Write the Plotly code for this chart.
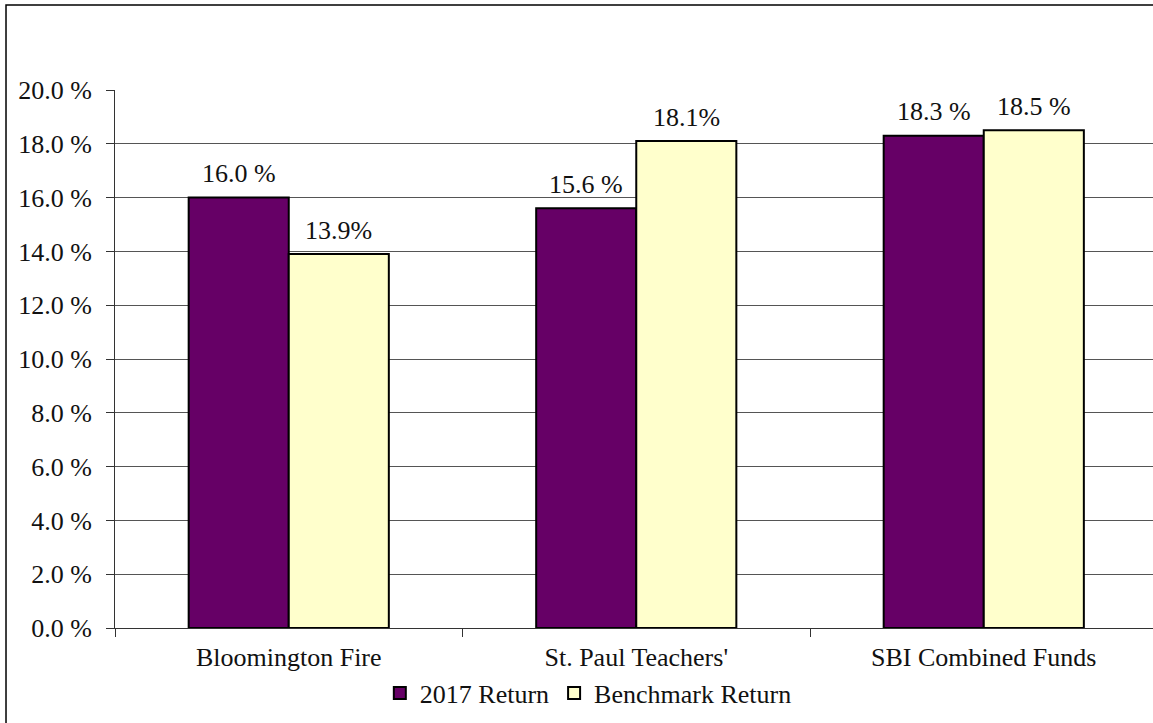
import plotly.graph_objects as go

categories = ["Bloomington Fire", "St. Paul Teachers'", "SBI Combined Funds"]
return_2017 = [16.0, 15.6, 18.3]
benchmark = [13.9, 18.1, 18.5]
return_labels = ["16.0 %", "15.6 %", "18.3 %"]
benchmark_labels = ["13.9%", "18.1%", "18.5 %"]
y_ticks = [0, 2, 4, 6, 8, 10, 12, 14, 16, 18, 20]
y_tick_text = ["0.0 %", "2.0 %", "4.0 %", "6.0 %", "8.0 %", "10.0 %", "12.0 %",
               "14.0 %", "16.0 %", "18.0 %", "20.0 %"]

FONT = "Liberation Serif"
FS = 26
TXT = "#111"

fig = go.Figure()
fig.add_trace(go.Bar(x=categories, y=return_2017, name="2017 Return",
                     marker=dict(color="#660066", line=dict(color="black", width=2))))
fig.add_trace(go.Bar(x=categories, y=benchmark, name="Benchmark Return",
                     marker=dict(color="#FFFFCC", line=dict(color="black", width=2))))

for i, c in enumerate(categories):
    fig.add_annotation(x=c, y=return_2017[i], text=return_labels[i], showarrow=False,
                       xshift=-50, yshift=24, font=dict(family=FONT, size=FS, color=TXT))
    fig.add_annotation(x=c, y=benchmark[i], text=benchmark_labels[i], showarrow=False,
                       xshift=50, yshift=24, font=dict(family=FONT, size=FS, color=TXT))

# outer frame
fig.add_shape(type="rect", xref="paper", yref="paper", x0=-0.105, x1=1.02, y0=-0.3, y1=1.158,
              line=dict(color="black", width=1.5), fillcolor="rgba(0,0,0,0)", layer="below")

fig.update_layout(
    width=1153, height=723,
    margin=dict(l=115, r=0, t=90, b=95),
    paper_bgcolor="white", plot_bgcolor="white",
    barmode="group", bargap=0.424, bargroupgap=0,
    font=dict(family=FONT, size=FS, color=TXT),
    showlegend=True,
    legend=dict(orientation="h", x=0.456, xanchor="center", y=-0.121, yanchor="middle",
                font=dict(family=FONT, size=FS, color=TXT), itemwidth=30,
                traceorder="normal", tracegroupgap=0),
    xaxis=dict(range=[-0.5, 2.487], showgrid=False, showline=True, linecolor="#333", linewidth=1,
               ticks="outside", tickson="boundaries", ticklen=8, tickcolor="#333",
               ticklabelstandoff=6,
               tickfont=dict(family=FONT, size=FS, color=TXT)),
    yaxis=dict(range=[0, 20], tickvals=y_ticks, ticktext=y_tick_text,
               showgrid=True, gridcolor="#555", gridwidth=1, showline=True, linecolor="#333",
               linewidth=1, ticks="outside", ticklen=8, tickcolor="#333", ticklabelstandoff=9,
               zeroline=False, tickfont=dict(family=FONT, size=FS, color=TXT)),
)

fig.write_html("out.html", config={"displayModeBar": False},
               post_script="document.body.style.margin='0';document.body.style.overflow='hidden';")
